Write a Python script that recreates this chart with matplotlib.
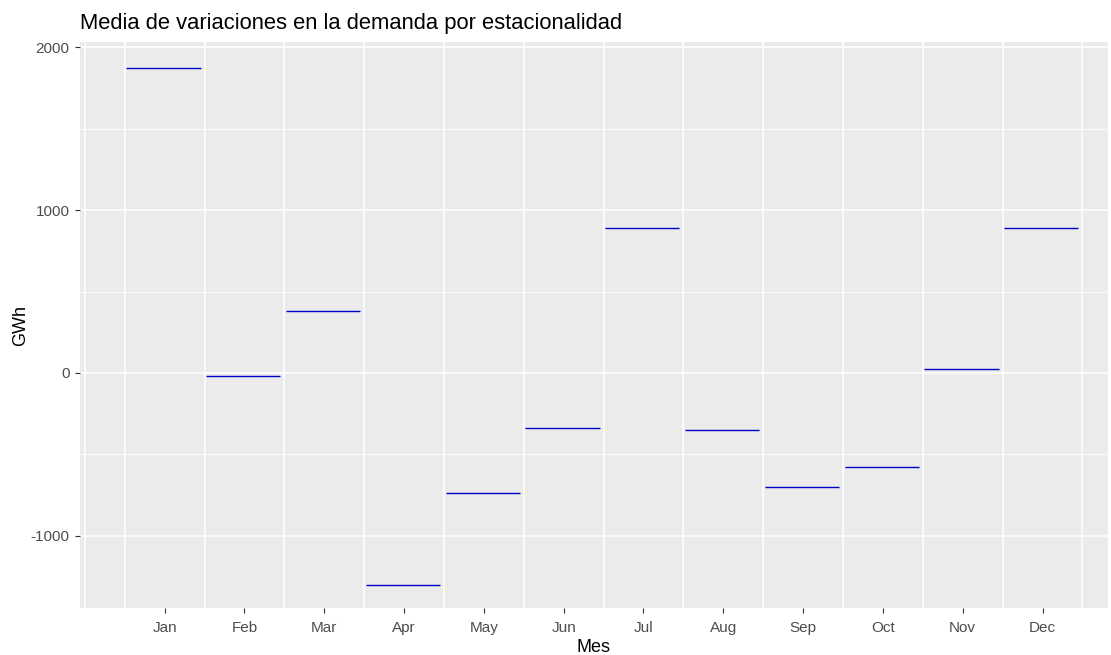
import matplotlib.pyplot as plt

plt.rcParams['font.family'] = ['Liberation Sans', 'DejaVu Sans']
plt.rcParams['axes.unicode_minus'] = False

meses = ['Jan', 'Feb', 'Mar', 'Apr', 'May', 'Jun', 'Jul', 'Aug', 'Sep', 'Oct', 'Nov', 'Dec']
medias = [1870, -18, 380, -1300, -736, -337, 890, -350, -700, -577, 25, 890]

fig = plt.figure(figsize=(11.11, 6.55), dpi=100)
ax = fig.add_axes([80 / 1111, 47 / 655, 1028 / 1111, 566 / 655])
ax.set_facecolor('#EBEBEB')

pos = list(range(1, len(meses) + 1))

# white grid: horizontal at major/minor y, vertical at month boundaries
for y in [-1500, -1000, -500, 0, 500, 1000, 1500, 2000]:
    lw = 1.1 if y % 1000 == 0 else 0.6
    ax.axhline(y, color='white', lw=lw, zorder=0)
for x in [0] + [p + 0.5 for p in [0] + pos]:
    ax.axvline(x, color='white', lw=1.1, zorder=0)

ax.hlines(medias, [p - 0.48 for p in pos], [p + 0.45 for p in pos],
          color='#0000CC', lw=1.0, zorder=2)

ax.set_xlim(-0.06, 12.82)
ax.set_ylim(-1442, 2031)
ax.set_xticks(pos)
ax.set_xticklabels(meses)
ax.set_yticks([-1000, 0, 1000, 2000])
ax.tick_params(colors='#333333', labelcolor='#4D4D4D', labelsize=11, length=3.5, width=0.8, pad=4)
ax.tick_params(axis='x', pad=6)
for s in ax.spines.values():
    s.set_visible(False)

ax.set_xlabel('Mes', fontsize=13, labelpad=3)
ax.set_ylabel('GWh', fontsize=13, labelpad=1)
ax.set_title('Media de variaciones en la demanda por estacionalidad',
             loc='left', fontsize=15.8, pad=9)

fig.savefig('out.png', dpi=100)
